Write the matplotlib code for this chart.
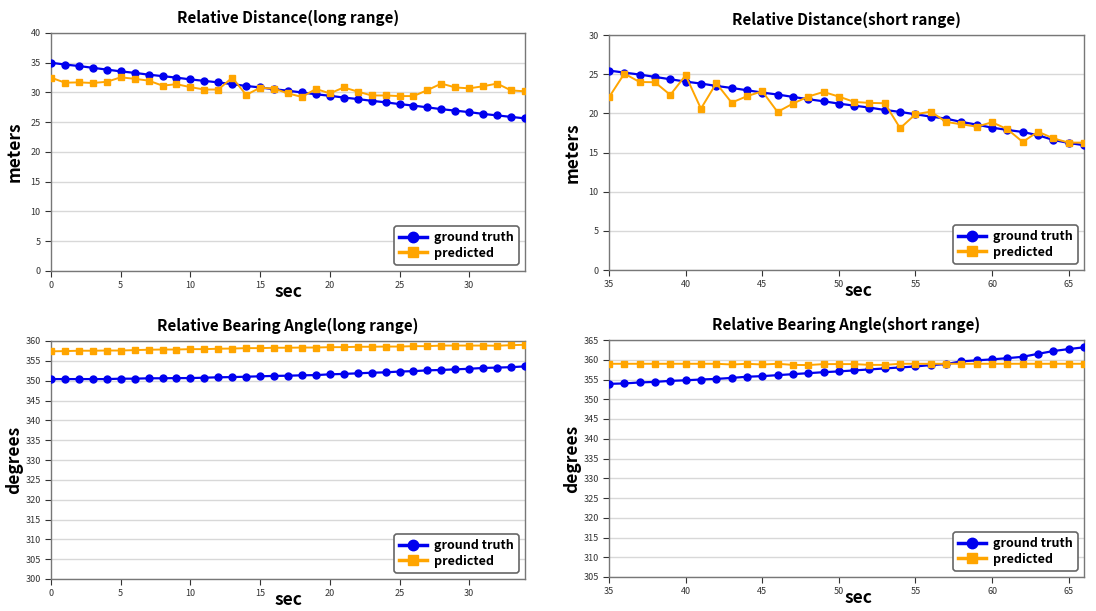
import matplotlib
matplotlib.use("Agg")
import matplotlib.pyplot as plt
import numpy as np

plt.rcParams['font.family'] = ['Noto Sans CJK KR', 'DejaVu Sans']

# ---------------- data ----------------
t_long = list(range(0, 35))
t_short = list(range(35, 67))

dist_long_gt = [35.0, 34.7, 34.45, 34.15, 33.85, 33.55, 33.3, 33.0, 32.75, 32.5,
                32.2, 31.95, 31.7, 31.4, 31.1, 30.85, 30.55, 30.3, 30.0, 29.7,
                29.45, 29.15, 28.9, 28.6, 28.35, 28.05, 27.8, 27.5, 27.2, 26.95,
                26.7, 26.4, 26.15, 25.9, 25.65]
dist_long_pred = [32.5, 31.65, 31.7, 31.6, 31.8, 32.55, 32.3, 32.0, 31.15, 31.4,
                  30.9, 30.5, 30.5, 32.5, 29.6, 30.8, 30.65, 29.85, 29.25, 30.6,
                  29.85, 30.85, 30.15, 29.5, 29.5, 29.4, 29.4, 30.4, 31.5, 30.85,
                  30.7, 31.05, 31.5, 30.35, 30.2]

dist_short_gt = [25.46, 25.2, 24.95, 24.65, 24.35, 24.05, 23.8, 23.5, 23.24, 22.95,
                 22.65, 22.4, 22.1, 21.8, 21.54, 21.24, 20.98, 20.73, 20.43, 20.18,
                 19.88, 19.58, 19.32, 18.9, 18.56, 18.17, 17.88, 17.62, 17.2, 16.6,
                 16.22, 15.93]
dist_short_pred = [22.05, 25.07, 24.0, 23.97, 22.35, 24.86, 20.6, 23.84, 21.37, 22.18,
                   22.82, 20.18, 21.24, 22.14, 22.73, 22.14, 21.46, 21.33, 21.29, 18.1,
                   19.88, 20.22, 18.9, 18.6, 18.3, 18.86, 17.97, 16.35, 17.66, 16.8,
                   16.26, 16.26]

bear_long_gt = [350.4, 350.4, 350.4, 350.4, 350.4, 350.5, 350.5, 350.6, 350.6, 350.65,
                350.65, 350.75, 350.85, 350.9, 351.0, 351.1, 351.2, 351.25, 351.35, 351.4,
                351.6, 351.7, 351.85, 352.0, 352.1, 352.3, 352.4, 352.6, 352.7, 352.85,
                353.0, 353.2, 353.3, 353.4, 353.6]
bear_long_pred = [357.4, 357.45, 357.55, 357.55, 357.6, 357.6, 357.7, 357.8, 357.85, 357.85,
                  357.95, 357.95, 358.05, 358.1, 358.2, 358.2, 358.3, 358.3, 358.35, 358.35,
                  358.45, 358.45, 358.55, 358.55, 358.6, 358.6, 358.7, 358.7, 358.85, 358.85,
                  358.85, 358.85, 358.8, 358.95, 359.05]

bear_short_gt = [353.9, 354.0, 354.25, 354.4, 354.65, 354.8, 355.0, 355.15, 355.4, 355.7,
                 355.85, 356.1, 356.35, 356.6, 356.85, 357.05, 357.3, 357.55, 357.8, 358.05,
                 358.3, 358.65, 358.9, 359.6, 359.85, 360.1, 360.4, 360.75, 361.5, 362.2,
                 362.7, 363.15]
bear_short_pred = [358.98, 358.98, 358.98, 358.98, 358.98, 358.98, 358.98, 358.98, 358.8, 358.98,
                   358.8, 358.98, 358.7, 358.65, 358.9, 358.9, 358.9, 358.7, 358.7, 358.98,
                   358.98, 358.98, 358.98, 358.98, 358.98, 358.98, 358.98, 358.98, 358.98, 358.98,
                   358.98, 358.98]

titles = ["Relative Distance(long range)", "Relative Distance(short range)",
          "Relative Bearing Angle(long range)", "Relative Bearing Angle(short range)"]
ylabels = ["meters", "meters", "degrees", "degrees"]
xlabel = "sec"
legend_labels = ["ground truth", "predicted"]

# ---------------- figure ----------------
W, H = 1096, 611
fig = plt.figure(figsize=(W / 100, H / 100), dpi=100)

def rect(l, r, t, b):
    return [l / W, 1 - b / H, (r - l) / W, (b - t) / H]

panels = [
    (rect(51, 525, 33, 271), t_long, dist_long_gt, dist_long_pred, (0, 34), (0, 40), 0.5),
    (rect(609, 1084, 35, 270), t_short, dist_short_gt, dist_short_pred, (35, 66), (0, 30), 0.525),
    (rect(51, 525, 341, 579), t_long, bear_long_gt, bear_long_pred, (0, 34), (300, 360), 0.5),
    (rect(609, 1084, 340, 577), t_short, bear_short_gt, bear_short_pred, (35, 66), (305, 365), 0.525),
]

for i, (pos, t, gt, pr, xl, yl, lx) in enumerate(panels):
    ax = fig.add_axes(pos)
    ax.plot(t, gt, color='#0000ee', marker='o', markersize=5, linewidth=1.6,
            label=legend_labels[0], zorder=3)
    ax.plot(t, pr, color='#FFA500', marker='s', markersize=5, linewidth=1.4,
            label=legend_labels[1], zorder=4)
    ax.set_xlim(*xl)
    ax.set_ylim(*yl)
    ax.set_xticks(np.arange(xl[0], xl[1] + 0.01, 5))
    ax.set_yticks(np.arange(yl[0], yl[1] + 0.01, 5))
    ax.yaxis.grid(True, color='#d8d8d8', linewidth=1.0)
    ax.set_axisbelow(True)
    ax.tick_params(labelsize=6.5, colors='#333333', length=4, width=0.8)
    for s in ax.spines.values():
        s.set_color('#777777')
        s.set_linewidth(1.0)
    ax.set_title(titles[i], fontsize=11, fontweight='bold', pad=7.5)
    ax.set_ylabel(ylabels[i], fontsize=12.5, fontweight='bold')
    ax.set_xlabel(xlabel, fontsize=12.5, fontweight='bold')
    ax.yaxis.set_label_coords(-0.058, 0.5)
    ax.xaxis.set_label_coords(lx, -0.052)
    leg = ax.legend(loc='lower right', prop={'weight': 'bold', 'size': 9},
                    fancybox=True, framealpha=1, edgecolor='#666666',
                    handlelength=2.2, borderpad=0.4, labelspacing=0.2,
                    handletextpad=0.6, markerscale=1.5)
    leg.get_frame().set_linewidth(1.2)
    for ln in leg.get_lines():
        ln.set_linewidth(2.5)

fig.savefig("out.png", dpi=100)
